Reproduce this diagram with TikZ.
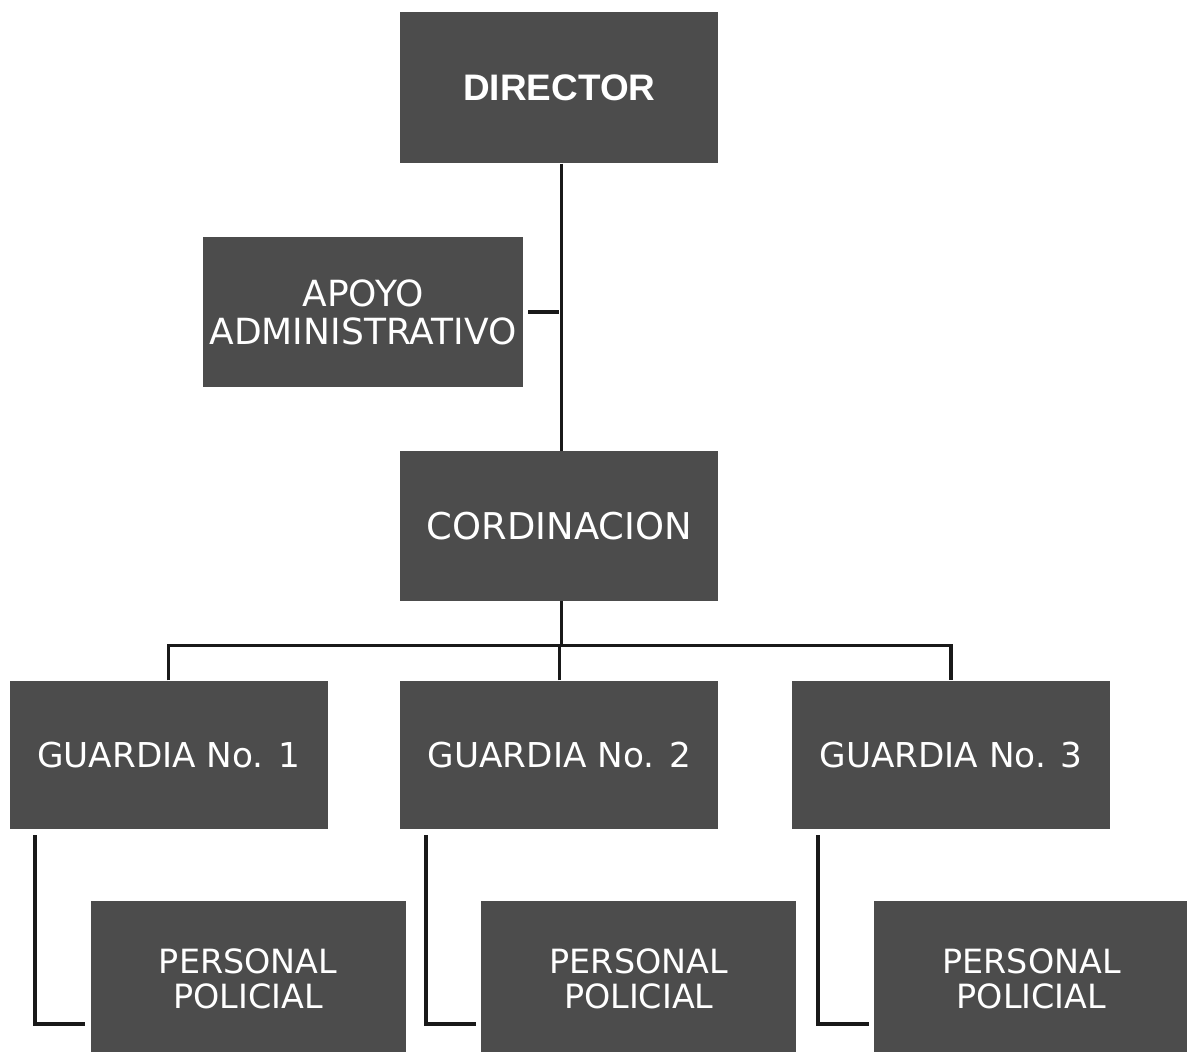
\documentclass[tikz,border=0pt]{standalone}
\usepackage{fontspec}
\setmainfont{DejaVu Sans}
\newfontfamily\headfont{Liberation Sans}
\usepackage{tikz}
\usetikzlibrary{positioning, calc}

\begin{document}
\begin{tikzpicture}[
    node distance=1.44cm and 1.45cm,
    unit/.style={fill=black!70, inner sep=0pt, minimum width=6.36cm, minimum height=3.0cm, align=center, text=white, font=\fontsize{19.5}{23}\selectfont},
    headunit/.style={unit, minimum height=3.02cm, font=\headfont\bfseries\fontsize{21}{25}\selectfont},
    staffunit/.style={unit, minimum width=6.3cm, minimum height=3.1cm, font=\fontsize{19}{20}\selectfont},
    link/.style={line width=2.1pt, draw=black!90},
]

% page frame (the bottom row runs off the edge)
\clip (-8.0,0.24) rectangle (15.74,-20.78);

% Director and coordination
\node[headunit, anchor=north west] (director) at (0,0) {DIRECTOR};
\node[unit, below=5.74cm of director, font=\fontsize{21}{25}\selectfont] (cord) {CORDINACION};

% Staff support
\coordinate (spine) at ($(director.south)!0.5!(cord.north)$);
\node[unit, minimum width=6.4cm, anchor=east, font=\fontsize{20.5}{21.5}\selectfont] (apoyo) at ($(spine)+(-0.72,-0.1)$) {APOYO\\ADMINISTRATIVO};

% Guards
\node[unit, below=1.58cm of cord, minimum height=2.96cm] (g2) {GUARDIA No. 2};
\node[unit, left=1.44cm of g2, minimum height=2.96cm] (g1) {GUARDIA No. 1};
\node[unit, right=1.46cm of g2, minimum height=2.96cm] (g3) {GUARDIA No. 3};

% Police staff under each guard
\node[staffunit, anchor=north west] (p1) at ($(g1.south west)+(1.62,-1.44)$) {PERSONAL\\POLICIAL};
\node[staffunit, anchor=north west] (p2) at ($(g2.south west)+(1.62,-1.44)$) {PERSONAL\\POLICIAL};
\node[staffunit, anchor=north west] (p3) at ($(g3.south west)+(1.64,-1.44)$) {PERSONAL\\POLICIAL};

% Main line
\draw[link] ([xshift=0.04cm]director.south) -- ([xshift=0.04cm]cord.north);
\draw[link] ([xshift=0.1cm]apoyo.east) -- (apoyo.east -| cord.north);

% Bus to the guards
\coordinate (bus) at ($(cord.south)+(0,-0.88)$);
\draw[link] ([xshift=0.04cm]cord.south) -- ([xshift=0.04cm]bus);
\draw[link] (g1.north) -- (g1.north |- bus) -- (g3.north |- bus) -- (g3.north);
\draw[link] (g2.north) -- (g2.north |- bus);

% Guard to staff
\foreach \g/\p in {g1/p1, g2/p2, g3/p3} {
    \draw[link] ($(\g.south west)+(0.52,-0.12)$) |- ($(\p.west)+(-0.1,-0.9)$);
}

\end{tikzpicture}
\end{document}
